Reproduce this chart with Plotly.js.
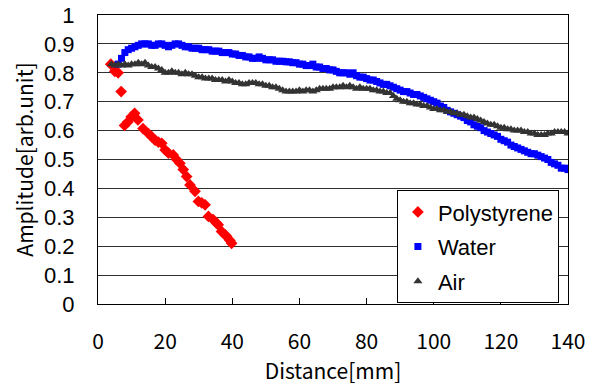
<!DOCTYPE html>
<html>
<head>
<meta charset="utf-8">
<script src="https://cdn.plot.ly/plotly-3.0.1.min.js"></script>
<style>html,body{margin:0;padding:0;background:#fff;}#chart{width:598px;height:389px;}</style>
</head>
<body>
<div id="chart"></div>
<script>
const polyX = [3.8,5,6,6.9,7.9,8.9,9.9,10.9,11.9,13.4,15,16,17,18,19,20,21,22.4,23.4,24.4,25.4,26.4,27.4,28.9,29.9,30.9,31.9,32.9,34.3,35.3,35.8,36.8,37.8,38.3,39.3,39.8];
const polyY = [0.83,0.805,0.80,0.735,0.618,0.63,0.648,0.66,0.637,0.607,0.59,0.579,0.567,0.56,0.556,0.533,0.522,0.516,0.50,0.487,0.465,0.441,0.412,0.39,0.355,0.35,0.343,0.303,0.292,0.28,0.274,0.251,0.24,0.234,0.22,0.21];

const waterX = [6,7,8,9,10,11,12,13,14,15,16,17,18,19,20,21,22,23,24,25,26,27,28,29,30,31,32,33,34,35,36,37,38,39,40,41,42,43,44,45,46,47,48,49,50,51,52,53,54,55,56,57,58,59,60,61,62,63,64,65,66,67,68,69,70,71,72,73,74,75,76,77,78,79,80,81,82,83,84,85,86,87,88,89,90,91,92,93,94,95,96,97,98,99,100,101,102,103,104,105,106,107,108,109,110,111,112,113,114,115,116,117,118,119,120,121,122,123,124,125,126,127,128,129,130,131,132,133,134,135,136,137,138,139,140];
const waterY = [0.83,0.85,0.87,0.88,0.885,0.89,0.895,0.90,0.90,0.90,0.895,0.895,0.90,0.90,0.895,0.89,0.895,0.90,0.90,0.895,0.89,0.89,0.885,0.885,0.885,0.88,0.88,0.88,0.875,0.875,0.875,0.87,0.87,0.87,0.865,0.865,0.86,0.86,0.855,0.855,0.85,0.85,0.855,0.85,0.845,0.845,0.845,0.84,0.84,0.84,0.838,0.838,0.835,0.835,0.83,0.83,0.825,0.825,0.83,0.82,0.82,0.815,0.815,0.81,0.81,0.805,0.80,0.80,0.80,0.795,0.80,0.79,0.785,0.785,0.78,0.775,0.775,0.77,0.765,0.76,0.76,0.755,0.75,0.745,0.74,0.735,0.735,0.73,0.725,0.725,0.72,0.715,0.71,0.705,0.70,0.695,0.685,0.68,0.67,0.665,0.66,0.655,0.65,0.645,0.635,0.63,0.62,0.615,0.61,0.60,0.595,0.59,0.585,0.58,0.57,0.565,0.56,0.55,0.545,0.54,0.535,0.53,0.525,0.52,0.52,0.515,0.51,0.505,0.50,0.49,0.485,0.48,0.47,0.47,0.465];

const airX = [4,5,6,7,8,9,10,11,12,13,14,15,16,17,18,19,20,21,22,23,24,25,26,27,28,29,30,31,32,33,34,35,36,37,38,39,40,41,42,43,44,45,46,47,48,49,50,51,52,53,54,55,56,57,58,59,60,61,62,63,64,65,66,67,68,69,70,71,72,73,74,75,76,77,78,79,80,81,82,83,84,85,86,87,88,89,90,91,92,93,94,95,96,97,98,99,100,101,102,103,104,105,106,107,108,109,110,111,112,113,114,115,116,117,118,119,120,121,122,123,124,125,126,127,128,129,130,131,132,133,134,135,136,137,138,139,140];
const airY = [0.83,0.825,0.83,0.825,0.83,0.825,0.83,0.83,0.835,0.83,0.835,0.825,0.82,0.82,0.815,0.81,0.80,0.80,0.805,0.80,0.80,0.795,0.80,0.795,0.795,0.79,0.785,0.785,0.78,0.78,0.78,0.775,0.775,0.775,0.77,0.775,0.77,0.765,0.765,0.76,0.76,0.765,0.765,0.765,0.76,0.76,0.755,0.755,0.75,0.75,0.745,0.74,0.735,0.735,0.735,0.735,0.74,0.735,0.74,0.74,0.735,0.74,0.745,0.745,0.745,0.745,0.75,0.75,0.75,0.755,0.75,0.755,0.75,0.745,0.75,0.745,0.745,0.745,0.74,0.74,0.735,0.735,0.73,0.73,0.72,0.71,0.705,0.70,0.70,0.695,0.695,0.69,0.69,0.685,0.685,0.68,0.675,0.675,0.67,0.67,0.665,0.665,0.66,0.66,0.655,0.655,0.65,0.645,0.645,0.64,0.635,0.63,0.625,0.62,0.62,0.615,0.61,0.61,0.605,0.605,0.60,0.60,0.60,0.595,0.595,0.59,0.59,0.585,0.585,0.585,0.59,0.59,0.595,0.595,0.595,0.595,0.59];

const yTickVals = [0,0.1,0.2,0.3,0.4,0.5,0.6,0.7,0.8,0.9,1];
const yTickText = ['0','0.1','0.2','0.3','0.4','0.5','0.6','0.7','0.8','0.9','1'];
const xTickVals = [0,20,40,60,80,100,120,140];

const traces = [
  {x: polyX, y: polyY, name: 'Polystyrene', type: 'scatter', mode: 'markers', legendgroup: 'a',
   marker: {symbol: 'diamond', size: 9, color: '#ff0000'}},
  {x: waterX, y: waterY, name: 'Water', type: 'scatter', mode: 'markers', legendgroup: 'b',
   marker: {symbol: 'square', size: 7, color: '#0000ff'}},
  {x: airX, y: airY, name: 'Air', type: 'scatter', mode: 'markers', legendgroup: 'c',
   marker: {symbol: 'triangle-up', size: 8, color: '#333333'}}
];

const layout = {
  width: 598, height: 389,
  margin: {l: 98, r: 30, t: 15, b: 85},
  paper_bgcolor: '#ffffff', plot_bgcolor: '#ffffff',
  showlegend: true,
  legend: {
    x: 0.636, y: 0.394, xanchor: 'left', yanchor: 'top',
    bgcolor: '#ffffff', bordercolor: '#000000', borderwidth: 1,
    font: {family: 'Liberation Sans, Arial, sans-serif', size: 22, color: '#000'},
    traceorder: 'grouped', tracegroupgap: 3, itemwidth: 30
  },
  xaxis: {
    range: [0, 140], tickvals: xTickVals, ticks: 'inside', ticklen: 6, tickcolor: '#000',
    showgrid: false, zeroline: false, showline: true, linecolor: '#000', linewidth: 1, mirror: true,
    tickfont: {family: 'Noto Sans CJK JP, sans-serif', size: 21, color: '#000'},
    ticklabelstandoff: 19,
    title: {text: 'Distance[mm]', font: {family: 'Noto Sans CJK JP, sans-serif', size: 21, color: '#000'}, standoff: 3}
  },
  yaxis: {
    range: [0, 1], tickvals: yTickVals, ticktext: yTickText, ticks: '',
    showgrid: true, gridcolor: '#303030', gridwidth: 1, zeroline: false,
    showline: true, linecolor: '#000', linewidth: 1, mirror: true,
    tickfont: {family: 'Liberation Sans, Arial, sans-serif', size: 22, color: '#000'},
    ticklabelstandoff: 18,
    title: {text: 'Amplitude[arb.unit]', font: {family: 'Noto Sans CJK JP, sans-serif', size: 21, color: '#000'}, standoff: 4}
  }
};

Plotly.newPlot('chart', traces, layout, {displayModeBar: false, staticPlot: true});
</script>
</body>
</html>
